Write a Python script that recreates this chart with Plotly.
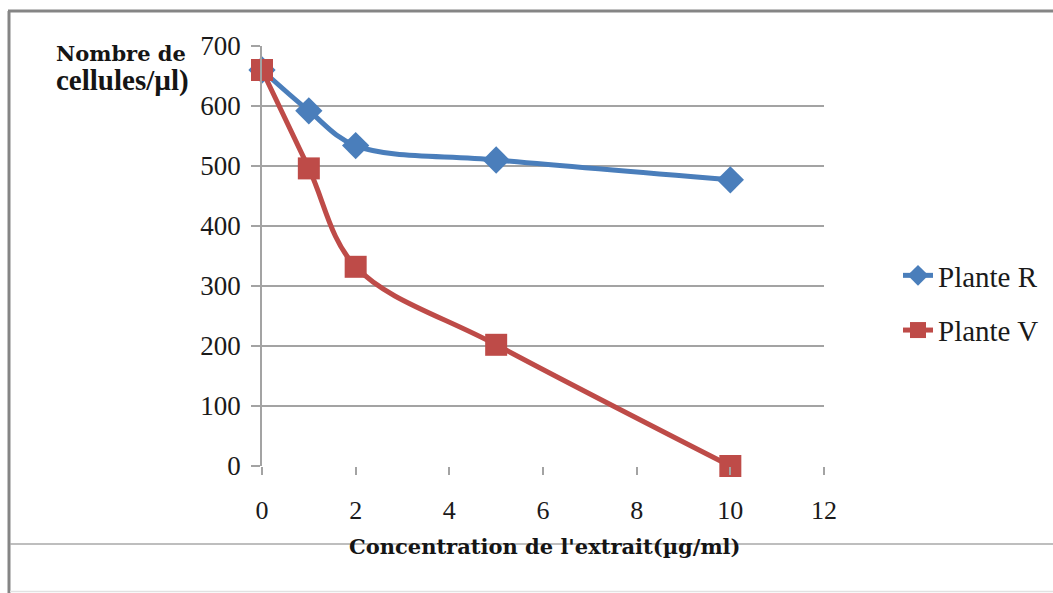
import plotly.graph_objects as go

# ---- data ----
concentration = [0, 1, 2, 5, 10]
plante_r = [660, 592, 534, 510, 477]
plante_v = [660, 496, 332, 202, 0]
series_names = ["Plante R", "Plante V"]
x_ticks = [0, 2, 4, 6, 8, 10, 12]
y_ticks = [0, 100, 200, 300, 400, 500, 600, 700]
x_title = "Concentration de l'extrait(µg/ml)"
y_title_1 = "Nombre de"
y_title_2 = "cellules/µl)"

W, H = 1053, 593
L, R, T, B = 262, 229, 46, 127
PW, PH = W - L - R, H - T - B


def px(xp):
    return (xp - L) / PW


def py(yp):
    return (H - B - yp) / PH


blue = "#4a7ebb"
red = "#be4b48"
grid = "#a3a3a3"
serif = "Liberation Serif"

fig = go.Figure()
fig.add_trace(go.Scatter(
    x=concentration, y=plante_r, name=series_names[0], mode="lines+markers",
    line=dict(color=blue, width=5, shape="spline", smoothing=1),
    marker=dict(symbol="diamond", size=21, color=blue),
    legendgroup="r", cliponaxis=False,
))
fig.add_trace(go.Scatter(
    x=concentration, y=plante_v, name=series_names[1], mode="lines+markers",
    line=dict(color=red, width=5, shape="spline", smoothing=1),
    marker=dict(symbol="square", size=22, color=red),
    legendgroup="v", cliponaxis=False,
))

shapes = [
    # outer frame (scan border)
    dict(type="line", xref="paper", yref="paper", x0=px(8), x1=px(W), y0=py(11), y1=py(11),
         line=dict(color="#858585", width=3)),
    dict(type="line", xref="paper", yref="paper", x0=px(9), x1=px(9), y0=py(11), y1=py(H),
         line=dict(color="#858585", width=3)),
    dict(type="line", xref="paper", yref="paper", x0=px(10), x1=px(W), y0=py(544), y1=py(544),
         line=dict(color="#a8a8a8", width=1.5)),
    dict(type="line", xref="paper", yref="paper", x0=px(10), x1=px(W), y0=py(591.5), y1=py(591.5),
         line=dict(color="#e2e2e2", width=1.5)),
]

annotations = [
    dict(text=y_title_1, xref="paper", yref="paper", x=px(121), y=py(53), xanchor="center",
         yanchor="middle", showarrow=False,
         font=dict(family="DejaVu Serif", size=21, color="#151515", weight="bold")),
    dict(text=y_title_2, xref="paper", yref="paper", x=px(122), y=py(80), xanchor="center",
         yanchor="middle", showarrow=False,
         font=dict(family=serif, size=29, color="#151515", weight="bold")),
    dict(text=x_title, xref="paper", yref="paper", x=px(545), y=py(546), xanchor="center",
         yanchor="middle", showarrow=False,
         font=dict(family="DejaVu Serif", size=21, color="#151515", weight="bold")),
]

fig.update_layout(
    width=W, height=H,
    margin=dict(l=L, r=R, t=T, b=B, autoexpand=False),
    paper_bgcolor="white", plot_bgcolor="white",
    font=dict(family=serif, color="#1a1a1a"),
    shapes=shapes, annotations=annotations,
    showlegend=True,
    legend=dict(x=px(898), y=py(250), xanchor="left", yanchor="top",
                font=dict(family=serif, size=29, color="#1a1a1a"),
                tracegroupgap=14, bgcolor="rgba(0,0,0,0)"),
)
fig.update_xaxes(range=[0, 12], tickvals=x_ticks, showgrid=False, zeroline=False,
                 showline=False, ticks="outside", ticklen=8, tickcolor=grid, tickwidth=1.5,
                 tickfont=dict(family=serif, size=26, color="#1a1a1a"), ticklabelstandoff=13,
                 fixedrange=True)
fig.update_yaxes(range=[0, 700], tickvals=y_ticks, showgrid=True, gridcolor=grid, gridwidth=1.5,
                 zeroline=False, showline=True, linecolor=grid, linewidth=1.5,
                 ticks="outside", ticklen=9, tickcolor=grid, tickwidth=1.5,
                 tickfont=dict(family=serif, size=27, color="#1a1a1a"), ticklabelstandoff=5,
                 fixedrange=True)

fig.write_html("out.html")
